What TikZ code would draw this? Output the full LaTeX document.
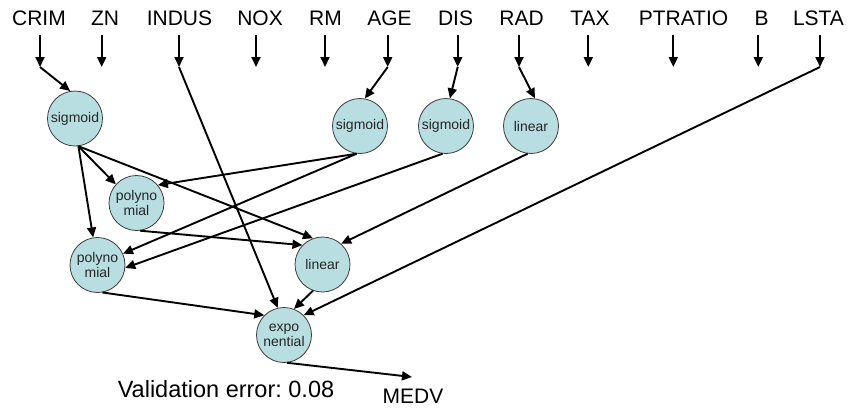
\documentclass[tikz,border=0pt]{standalone}
\usepackage{fontspec}
\setmainfont{Liberation Sans}
\usetikzlibrary{arrows.meta}
\definecolor{unitfill}{RGB}{184,222,225}
\definecolor{unitedge}{RGB}{60,60,60}
\tikzset{
  unit/.style={circle, draw=unitedge, line width=0.8pt, fill=unitfill,
    minimum size=55pt, inner sep=0pt, align=center, text=black!85,
    font=\fontsize{14}{15}\selectfont},
  inlabel/.style={anchor=base, text depth=0pt, inner ysep=10pt,
    font=\fontsize{21}{25}\selectfont},
  arr/.style={line width=1.9pt, -{Triangle[length=10pt,width=9pt]}},
}
\frenchspacing
\begin{document}
\begin{tikzpicture}[x=1pt,y=-1pt]
\useasboundingbox (0,0) rectangle (853,407);

% input variables
\foreach \nm/\lx/\ax in {CRIM/39/40, ZN/105/101.7, INDUS/179.5/179, NOX/260/256,
    RM/325.5/325, AGE/389.5/387.7, DIS/455.5/457.7, RAD/521.5/519, TAX/590/588.3,
    PTRATIO/683.5/673.3, B/761.5/758.3, LSTA/818.5/820} {
  \node[inlabel] (l\nm) at (\lx,25) {\nm};
  \coordinate (t\nm) at (\ax,67);
  \draw[arr] (l\nm.south -| t\nm) -- (t\nm);
}

% hidden units
\node[unit] (s1) at (75,118.5) {sigmoid};
\node[unit] (s2) at (360,126) {sigmoid};
\node[unit] (s3) at (446,126) {sigmoid};
\node[unit] (l1) at (531,126) {linear};
\node[unit] (p1) at (136.5,203) {polyno\\mial};
\node[unit] (p2) at (97.5,265) {polyno\\mial};
\node[unit] (l2) at (322.5,264.5) {linear};
\node[unit] (ex) at (284,335) {expo\\nential};

% output
\coordinate (out) at (412,377);
\node[anchor=base, font=\fontsize{21}{25}\selectfont] (medv) at (413,403) {MEDV};
\node[anchor=base, font=\fontsize{23.5}{28}\selectfont] (verr) at (226,397) {Validation error: 0.08};

% connections from the inputs
\draw[arr] (tCRIM) -- (s1.100);
\draw[arr] (tAGE) -- (s2.80);
\draw[arr] (tDIS) -- (s3.82);
\draw[arr] (tRAD) -- (l1.82);
\draw[arr] (tINDUS) -- (ex.103);
\draw[arr] (tLSTA) -- (ex.45);

% connections between units
\draw[arr] (s1.-83) -- (p1.138);
\draw[arr] (s1.-83) -- (p2.99);
\draw[arr] (s1.-83) -- (l2.110);
\draw[arr] (s2.-97) -- (p1.40);
\draw[arr] (s2.-97) -- (p2.24);
\draw[arr] (s3.-97) -- (p2.-6);
\draw[arr] (l1.-97) -- (l2.48);
\draw[arr] (p1.-83) -- (l2.136);
\draw[arr] (p2.-80) -- (ex.135);
\draw[arr] (l2.250) -- (ex.69);
\draw[arr] (ex.-84) -- (out);
\end{tikzpicture}
\end{document}
